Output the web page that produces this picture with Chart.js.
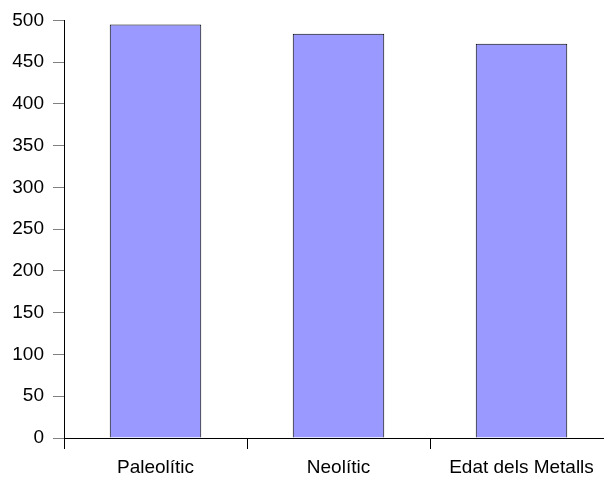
<!DOCTYPE html>
<html>
<head>
<meta charset="utf-8">
<script src="https://cdn.jsdelivr.net/npm/chart.js@4.4.1/dist/chart.umd.min.js"></script>
<style>
  html, body { margin: 0; padding: 0; background: #fff; overflow: hidden; }
  #wrap { width: 614px; height: 479px; }
</style>
</head>
<body>
<div id="wrap"><canvas id="chart"></canvas></div>
<script>
// ---- Data ----
const periods = ['Paleolític', 'Neolític', 'Edat dels Metalls'];
const values = [495, 484, 472];

const font = { family: '"Liberation Sans", Arial, sans-serif', size: 19 };

new Chart(document.getElementById('chart'), {
  type: 'bar',
  data: {
    labels: periods,
    datasets: [{
      data: values,
      backgroundColor: '#9999ff',
      borderColor: '#000000',
      borderWidth: 1,
      barPercentage: 1,
      categoryPercentage: 0.5
    }]
  },
  options: {
    responsive: true,
    maintainAspectRatio: false,
    animation: false,
    devicePixelRatio: 1,
    layout: { padding: { top: 20, right: 1, bottom: 0, left: 0 } },
    plugins: { legend: { display: false }, tooltip: { enabled: false } },
    scales: {
      x: {
        offset: true,
        grid: { offset: true, drawOnChartArea: false, tickLength: 11, color: '#000' },
        border: { color: '#000' },
        ticks: { color: '#000', font: font, padding: 7, maxRotation: 0 },
        afterFit: s => { s.height = 41; }
      },
      y: {
        min: 0,
        max: 500,
        ticks: { stepSize: 50, color: '#000', font: font, padding: 9 },
        grid: { drawOnChartArea: false, tickLength: 11, color: '#808080' },
        border: { color: '#000' },
        afterFit: s => { s.width = 64; }
      }
    }
  }
});
</script>
</body>
</html>
